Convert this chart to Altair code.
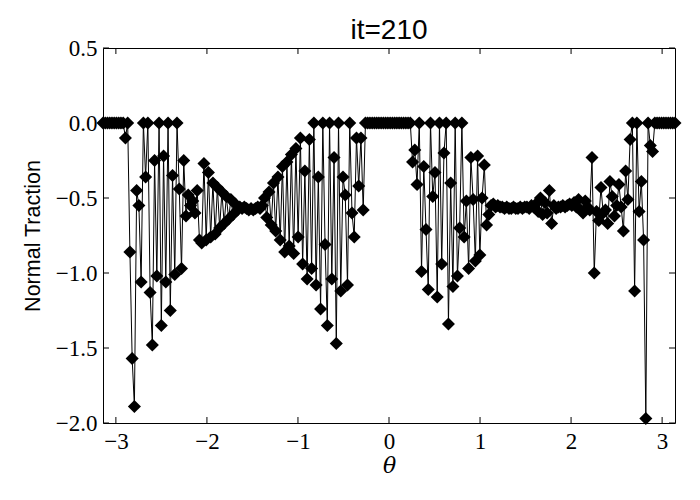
import altair as alt
import numpy as np
import pandas as pd

# Normal traction values, left to right
seg_a = [0, 0, 0, 0, 0, 0, 0, 0, 0, 0,
         -0.10, 0, -0.86, -1.57, -1.89, -0.45, -0.55, -1.06, 0, -0.36,
         0, -1.13, -1.48, -0.25, -1.02, 0, -1.35, -0.22, -1.06, 0,
         -1.25, -0.35, -1.01, 0, -0.44, -0.97]
seg_b = [-0.25, -0.62, -0.48, -0.55, -0.52, -0.60, -0.45, -0.78]
seg_c = [-0.80, -0.27, -0.78, -0.33, -0.76, -0.40, -0.74, -0.43, -0.70, -0.46,
         -0.67, -0.49, -0.64, -0.51, -0.61, -0.54, -0.58]
seg_d = [-0.56, -0.57, -0.56, -0.57, -0.58, -0.57, -0.58, -0.57, -0.56, -0.57, -0.55]
seg_e = [-0.50, -0.63, -0.46, -0.68, -0.40, -0.72, -0.36, -0.78, -0.29, -0.86,
         -0.26, -0.82, -0.21, -0.87, -0.17, -0.76, -0.10, -0.94, -0.32, -1.04]
seg_f = [-0.11, -0.97, 0, -1.08, -0.36, -1.24, 0, -0.81, -1.35, 0,
         -1.04, -0.23, -1.47, 0, -1.12, -0.36, -0.48, -1.08, 0, -0.60,
         -0.76, -0.10, -0.42, -0.10, -0.58]
seg_g = [0, 0, 0, 0, 0, 0, 0, 0, 0, 0, 0, 0, 0, 0, 0, 0, 0, 0, 0, 0, 0]
seg_h = [-0.26, -0.18, -0.41, 0, -0.99, -0.29, -0.71, -1.11, 0, -0.49,
         -0.33, -1.16, 0, -0.94, -0.20, 0, -1.34, -0.40, -1.09, 0,
         -1.02, -0.70, 0, -0.76, -0.52, -0.97, -0.23, -0.51, -0.92, -0.22,
         -0.88, -0.50, -0.28, -0.68, -0.61]
seg_i = [-0.55, -0.54, -0.56, -0.55, -0.56, -0.56, -0.57, -0.56, -0.57, -0.57,
         -0.56, -0.57, -0.57, -0.56, -0.57, -0.56, -0.56, -0.57, -0.55, -0.56,
         -0.54, -0.59, -0.50, -0.61, -0.53, -0.60, -0.45, -0.67, -0.55, -0.57,
         -0.56, -0.56, -0.55, -0.56, -0.55, -0.54, -0.55, -0.53, -0.56, -0.51,
         -0.58]
seg_j = [-0.60, -0.52, -0.56, -0.58, -0.23, -1.00, -0.59, -0.65, -0.43, -0.60,
         -0.58, -0.67, -0.39, -0.49, -0.62, -0.55, -0.41, -0.56, -0.72, -0.32,
         -0.51, -0.11, 0, -1.12, 0, -0.59, -0.39, -0.78, -1.97, 0,
         -0.15, -0.19, 0]
seg_k = [0, 0, 0, 0, 0, 0, 0, 0, 0]

x_ticks = [-3, -2, -1, 0, 1, 2, 3]
y_ticks = [-2.0, -1.5, -1.0, -0.5, 0.0, 0.5]

values = seg_a + seg_b + seg_c + seg_d + seg_e + seg_f + seg_g + seg_h + seg_i + seg_j + seg_k
theta = np.linspace(-np.pi, np.pi, len(values))
df = pd.DataFrame({"theta": theta, "traction": values})

W, H = 572, 375
TL = 6

xs = alt.Scale(domain=[-np.pi, np.pi], nice=False, zero=False)
ys = alt.Scale(domain=[-2.0, 0.5], nice=False, zero=False)

x_axis = alt.Axis(title="θ", values=x_ticks, format=".0f",
                  labelPadding=7, titleFont="DejaVu Serif",
                  titleFontStyle="italic", titleFontSize=22,
                  titleFontWeight="normal", titleY=42,
                  titleBaseline="middle")
y_axis = alt.Axis(title="Normal Traction", values=y_ticks, format=".1f",
                  labelPadding=6, titleFont="Liberation Sans",
                  titleFontSize=21.5, titleFontWeight="normal",
                  titleX=-70, titleY=H / 2, titleBaseline="middle")

base = alt.Chart(df)
line = base.mark_line(color="black", strokeWidth=1).encode(
    x=alt.X("theta:Q", scale=xs, axis=x_axis),
    y=alt.Y("traction:Q", scale=ys, axis=y_axis),
)
pts = base.mark_point(shape="diamond", filled=True, size=170, color="black",
                      opacity=1).encode(
    x=alt.X("theta:Q", scale=xs, axis=x_axis),
    y=alt.Y("traction:Q", scale=ys, axis=y_axis))

xt = pd.DataFrame({"theta": x_ticks})
yt = pd.DataFrame({"traction": y_ticks})
top_t = alt.Chart(xt).mark_rule(color="black").encode(
    x=alt.X("theta:Q", scale=xs, axis=x_axis), y=alt.value(0), y2=alt.value(TL))
bot_t = alt.Chart(xt).mark_rule(color="black").encode(
    x=alt.X("theta:Q", scale=xs, axis=x_axis), y=alt.value(H), y2=alt.value(H - TL))
left_t = alt.Chart(yt).mark_rule(color="black").encode(
    y=alt.Y("traction:Q", scale=ys, axis=y_axis), x=alt.value(0), x2=alt.value(TL))
right_t = alt.Chart(yt).mark_rule(color="black").encode(
    y=alt.Y("traction:Q", scale=ys, axis=y_axis), x=alt.value(W), x2=alt.value(W - TL))

chart = alt.layer(line, pts, top_t, bot_t, left_t, right_t).properties(
    width=W, height=H,
    background="white",
    title=alt.Title("it=210", font="Liberation Sans", fontSize=28,
                    fontWeight="normal", offset=1, dy=9, anchor="middle",
                    frame="group", color="black"),
    autosize=alt.AutoSizeParams(type="none"),
    padding={"left": 95, "top": 40, "right": 15, "bottom": 60},
).configure_view(stroke="black", strokeWidth=1).configure_axis(
    domain=False, ticks=False, tickSize=0, grid=False,
    labelFont="Liberation Serif", labelFontSize=23, labelColor="black",
    titleColor="black",
)

chart.save("out.html", embed_options={"renderer": "svg", "actions": False})
